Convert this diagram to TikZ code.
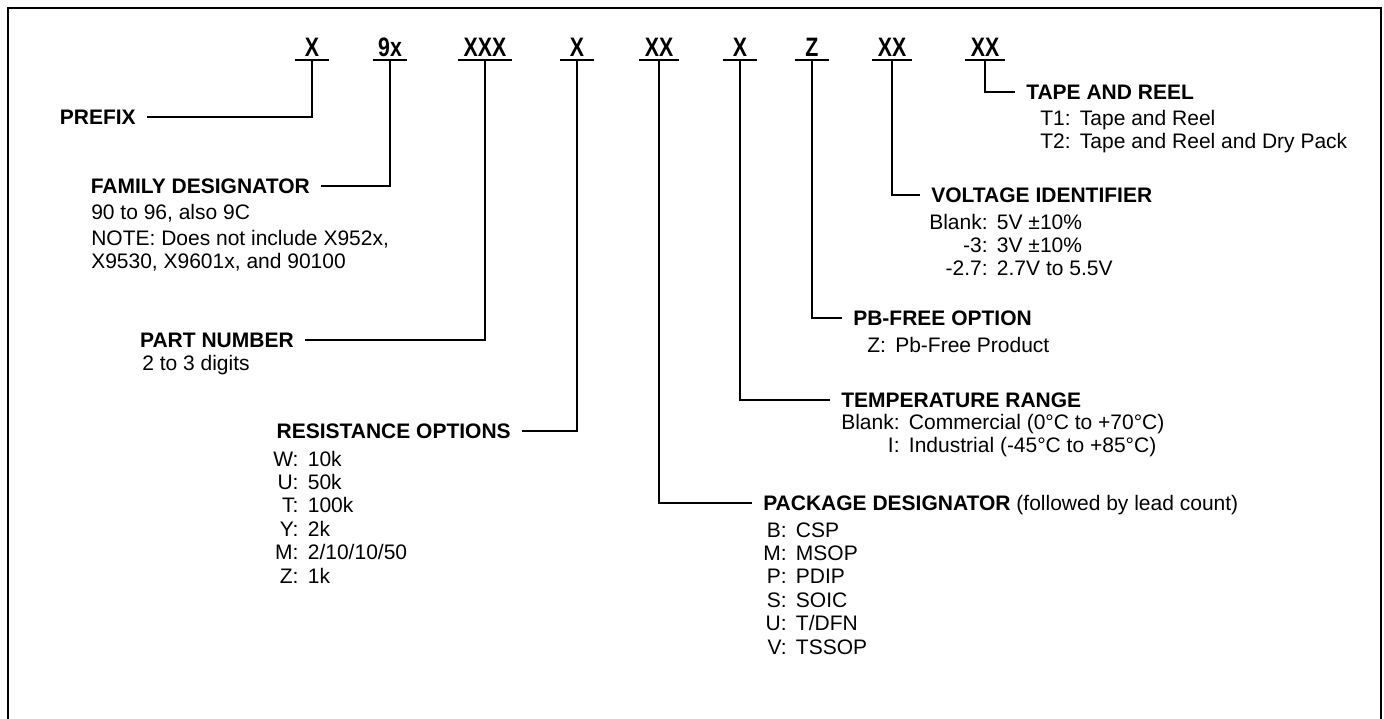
\documentclass[tikz,border=0pt]{standalone}
\usepackage{fontspec}
\setmainfont{Liberation Sans}
\newfontfamily\codefont[FakeStretch=0.8]{Liberation Sans}

\tikzset{
  code/.style={font=\codefont\fontsize{20}{22}\selectfont\bfseries, anchor=base, inner xsep=4pt, inner ysep=3pt, minimum width=25.5pt, text depth=0pt},
  head/.style={font=\fontsize{15.75}{17.6}\selectfont\bfseries, inner xsep=8.25pt, inner ysep=0pt, text height=11.3pt, text depth=0pt},
  opts/.style={font=\fontsize{15.75}{17.6}\selectfont, anchor=base west, inner sep=0pt},
  link/.style={line width=1.4pt},
}

\begin{document}
\begin{tikzpicture}[x=0.75pt,y=0.75pt,yscale=-1,xscale=1]
\useasboundingbox (0,0) rectangle (1384,718);

%Shape: Frame
\draw [line width=2pt]  (8,722) -- (8,8) -- (1381,8) -- (1381,722) ;

% Code fields
\node [code] (pfx)  at (312,56) {X};
\node [code] (fam)  at (390,56) {9x};
\node [code] (pnum) at (485,56) {XXX};
\node [code] (res)  at (577,56) {X};
\node [code] (pkg)  at (659,56) {XX};
\node [code] (tmp)  at (740,56) {X};
\node [code] (pbf)  at (812,56) {Z};
\node [code] (vlt)  at (892,56) {XX};
\node [code] (tnr)  at (985,56) {XX};

%Straight Lines: underlines
\draw [link] (pfx.south west) -- (pfx.south east) ;
\draw [link] (fam.south west) -- (fam.south east) ;
\draw [link] (pnum.south west) -- (pnum.south east) ;
\draw [link] (res.south west) -- (res.south east) ;
\draw [link] (pkg.south west) -- (pkg.south east) ;
\draw [link] (tmp.south west) -- (tmp.south east) ;
\draw [link] (pbf.south west) -- (pbf.south east) ;
\draw [link] (vlt.south west) -- (vlt.south east) ;
\draw [link] (tnr.south west) -- (tnr.south east) ;

% Text Node: left side
\node [head, anchor=east] (prefix) at (147,117) {PREFIX};
\node [head, anchor=east] (family) at (321,186) {FAMILY DESIGNATOR};
\node [opts] (familynote) at (91,219) {\begin{tabular}[t]{@{}l@{}}90 to 96, also 9C\\[2pt] NOTE: Does not include X952x,\\ X9530, X9601x, and 90100\end{tabular}};
\node [head, anchor=east] (partno) at (305,340) {PART NUMBER};
\node [opts] (partnonote) at (142,370) {2 to 3 digits};
\node [head, anchor=east] (resist) at (522,431) {RESISTANCE OPTIONS};
\node [opts] (resistlist) at (273,466) {\begin{tabular}[t]{@{}r@{\hspace{7pt}}l@{}}W: & 10k\\ U: & 50k\\ T: & 100k\\ Y: & 2k\\ M: & 2/10/10/50\\ Z: & 1k\end{tabular}};

% Text Node: right side
\node [head, anchor=west] (tape) at (1015,92) {TAPE AND REEL};
\node [opts] (tapelist) at (1040,125) {\begin{tabular}[t]{@{}r@{\hspace{7pt}}l@{}}T1: & Tape and Reel\\ T2: & Tape and Reel and Dry Pack\end{tabular}};
\node [head, anchor=west] (volt) at (920,195) {VOLTAGE IDENTIFIER};
\node [opts] (voltlist) at (929,229) {\begin{tabular}[t]{@{}r@{\hspace{7pt}}l@{}}Blank: & 5V \textpm10\%\\ -3: & 3V \textpm10\%\\ -2.7: & 2.7V to 5.5V\end{tabular}};
\node [head, anchor=west] (pbfree) at (842,318) {PB-FREE OPTION};
\node [opts] (pbfreelist) at (867,352) {\begin{tabular}[t]{@{}r@{\hspace{7pt}}l@{}}Z: & Pb-Free Product\end{tabular}};
\node [head, anchor=west] (temp) at (830,400) {TEMPERATURE RANGE};
\node [opts] (templist) at (841,429) {\begin{tabular}[t]{@{}r@{\hspace{7pt}}l@{}}Blank: & Commercial (0°C to +70°C)\\ I: & Industrial (-45°C to +85°C)\end{tabular}};
\node [head, anchor=west] (pack) at (752,503) {PACKAGE DESIGNATOR \mdseries(followed by lead count)};
\node [opts] (packlist) at (763,537) {\begin{tabular}[t]{@{}r@{\hspace{7pt}}l@{}}B: & CSP\\ M: & MSOP\\ P: & PDIP\\ S: & SOIC\\ U: & T/DFN\\ V: & TSSOP\end{tabular}};

%Straight Lines: connectors
\draw [link] (pfx.south) |- (prefix.east) ;
\draw [link] (fam.south) |- (family.east) ;
\draw [link] (pnum.south) |- (partno.east) ;
\draw [link] (res.south) |- (resist.east) ;
\draw [link] (pkg.south) |- (pack.west) ;
\draw [link] (tmp.south) |- (temp.west) ;
\draw [link] (pbf.south) |- (pbfree.west) ;
\draw [link] (vlt.south) |- (volt.west) ;
\draw [link] (tnr.south) |- (tape.west) ;

\end{tikzpicture}
\end{document}
